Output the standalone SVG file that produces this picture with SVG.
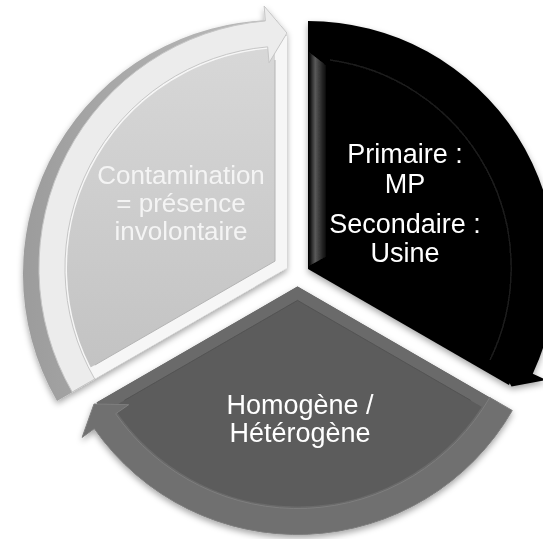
<svg xmlns="http://www.w3.org/2000/svg" width="543" height="539" viewBox="0 0 543 539">
  <defs>
    <filter id="shadow" x="-15%" y="-15%" width="130%" height="130%">
      <feDropShadow dx="0" dy="3" stdDeviation="3" flood-color="#000" flood-opacity="0.35"/>
    </filter>
    <linearGradient id="fillLight" x1="0" y1="0" x2="0" y2="1">
      <stop offset="0" stop-color="#d8d8d8"/>
      <stop offset="1" stop-color="#c2c2c2"/>
    </linearGradient>
    <linearGradient id="sideLight" x1="0" y1="0" x2="1" y2="0">
      <stop offset="0" stop-color="#9c9c9c"/>
      <stop offset="1" stop-color="#bdbdbd"/>
    </linearGradient>
    <linearGradient id="bevelDark" x1="0" y1="0" x2="1" y2="0">
      <stop offset="0" stop-color="#050505"/>
      <stop offset="0.35" stop-color="#5a5a5a"/>
      <stop offset="1" stop-color="#000"/>
    </linearGradient>
    <clipPath id="clipW1"><path d="M287,268 L86.1,384 A232,232 0 0 1 287,36 Z"/></clipPath>
    <clipPath id="clipW3"><path d="M297.5,286.5 L498.4,402.5 A232,232 0 0 1 96.6,402.5 Z"/></clipPath>
  </defs>
  <style>
    text { font-family: "Liberation Sans", Arial, sans-serif; font-size: 27px; fill: #ffffff; text-anchor: middle; }
    .lbl1 { fill: #f4f4f4; font-size: 26px; }
    .band1 { fill: #ececec; stroke: #c6c6c6; stroke-width: 1; }
    .band3 { fill: #6f6f6f; stroke: #7e7e7e; stroke-width: 1; }
  </style>

  <!-- segment: contamination -->
  <g id="seg-contamination" filter="url(#shadow)">
    <path d="M277,274 L57,401 A254,254 0 0 1 277,20 Z" fill="url(#sideLight)"/>
    <path d="M287,268 L86.1,384 A232,232 0 0 1 287,36 Z" fill="url(#fillLight)"/>
    <path d="M287,268 L86.1,384 A232,232 0 0 1 287,36 Z" fill="none" stroke="#f6f6f6" stroke-width="24" clip-path="url(#clipW1)"/>
    <path d="M275,60 L275,261.1 L94.8,365.1" fill="none" stroke="#b4b4b4" stroke-width="1"/>
    <path class="band1" d="M72.2,392 A248,248 0 0 1 265.4,20.9 L264.1,6 L287,33 L269.05,62.8 L267.65,46.85 A222,222 0 0 0 94.7,379 Z"/>
    <text class="lbl1" x="181" y="184">Contamination</text>
    <text class="lbl1" x="181" y="212">= présence</text>
    <text class="lbl1" x="181" y="240">involontaire</text>
  </g>

  <!-- segment: origin -->
  <g id="seg-origine" filter="url(#shadow)">
    <path d="M308,269 L308,37 A232,232 0 0 1 508.9,385 Z" fill="#000"/>
    <path d="M308,21 A248,248 0 0 1 532.8,373.8 L546.4,380.1 L511.5,386.5 L494.7,356.1 L509.2,362.8 A222,222 0 0 0 308,47 Z" fill="#000"/>
    <path d="M309,52 L327,66 L327,256 L309,266 Z" fill="url(#bevelDark)"/>
    <path d="M330,60 A210,210 0 0 1 490,360" fill="none" stroke="#1c1c1c" stroke-width="1.5"/>
    <text x="405" y="163">Primaire :</text>
    <text x="405" y="193">MP</text>
    <text x="405" y="233">Secondaire :</text>
    <text x="405" y="262">Usine</text>
  </g>

  <!-- segment: distribution -->
  <g id="seg-distribution" filter="url(#shadow)">
    <path d="M297.5,286.5 L498.4,402.5 A232,232 0 0 1 96.6,402.5 Z" fill="#5c5c5c"/>
    <path d="M297.5,286.5 L498.4,402.5 A232,232 0 0 1 96.6,402.5 Z" fill="none" stroke="#6a6a6a" stroke-width="24" clip-path="url(#clipW3)"/>
    <path d="M124.3,400.4 L297.5,300.4 L470.7,400.4" fill="none" stroke="#535353" stroke-width="1"/>
    <path class="band3" d="M512.3,410.5 A248,248 0 0 1 94.3,428.7 L82.1,437.4 L94,404 L128.7,404.7 L115.6,413.8 A222,222 0 0 0 489.8,397.5 Z"/>
    <text x="300" y="414">Homogène /</text>
    <text x="300" y="442">Hétérogène</text>
  </g>
</svg>
